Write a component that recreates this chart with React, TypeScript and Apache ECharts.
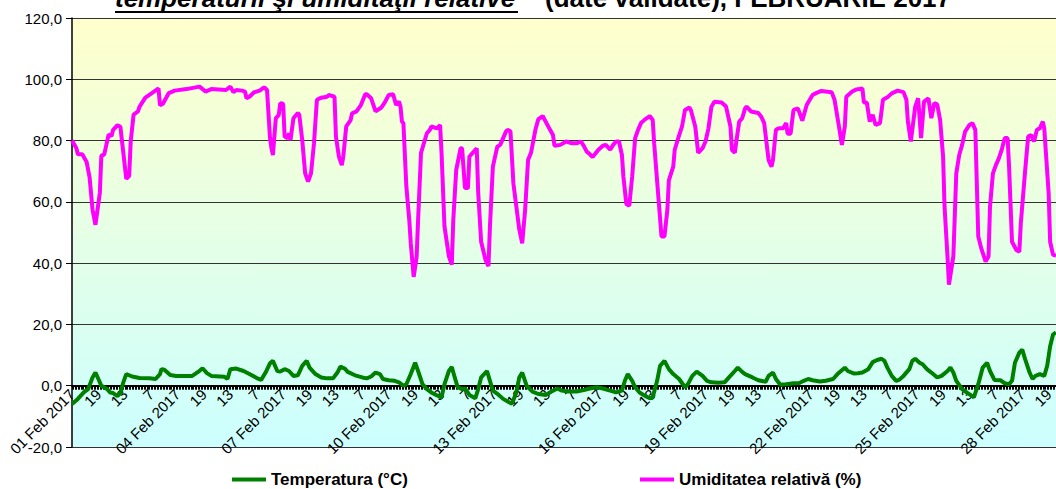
import React, { useEffect, useRef } from "react";
import * as echarts from "echarts";

// ---- data (hour index from 01 Feb 2017 01:00, value) ----
const MONTH_LABEL = "Feb 2017";
const DAYS_IN_MONTH = 28;
const HOURS_PER_DAY = 24;
const LABEL_STEP = 18;

const tempHours = [0,4,8,11,14,16,18,20,24,26,28,31,33,35,37,41,46,53,57,60,61,63,67,71,82,86,89,92,95,101,104,106,108,112,117,121,126,129,132,135,137,140,142,145,148,151,154,157,160,162,166,170,174,178,181,183,186,188,193,198,201,204,207,210,212,216,220,223,226,228,231,234,236,239,242,245,249,252,254,257,259,261,263,266,268,271,275,277,279,283,285,287,291,294,298,300,303,305,307,310,314,318,323,327,331,334,338,344,349,353,358,362,367,371,375,377,379,382,384,387,391,394,396,399,401,404,407,410,414,418,420,423,426,430,433,436,441,445,448,452,454,457,459,464,468,473,475,478,480,483,487,492,496,499,502,505,510,514,519,522,527,529,533,536,539,543,546,549,552,554,556,559,562,564,567,571,573,575,578,580,583,586,590,593,597,599,601,603,607,610,614,615,618,621,624,626,629,633,636,639,641,643,646,648,650,653,655,657,660,663,665,667,669,671];
const tempValues = [-6,-4.3,-2.2,-1.1,2.7,4.3,2.2,0,-1.1,-2.2,-2.4,-3.4,-2.4,1.1,3.8,3,2.5,2.4,2.2,3.8,5.4,5.2,3.5,3.2,3.2,4.5,5.7,4.1,3.2,3,2.9,2.2,5.4,5.6,4.8,3.8,2.5,1.9,4.3,7.3,8.1,4.8,4.6,5.4,4.8,3.2,3.4,6.5,8.1,5.9,3.8,2.7,2.4,2.4,4.3,6.2,5.6,4.5,3.4,2.7,2.4,3,4.3,3.8,2.2,1.8,1.6,1.1,0,0.5,3.8,7.5,4.8,0.5,-1.1,-2.2,-3.2,-3.8,0.5,4.8,6.1,2.7,-0.5,-1.1,-0.9,-3,-4.1,-1.1,2.7,4.8,1.6,-1.6,-3,-4.3,-5.4,-5.9,-2.2,2.7,4.3,0,-1.9,-2.7,-3,-1.9,-0.9,-1.6,-1.9,-1.9,-1.4,-0.9,-0.5,-0.9,-1.6,-2.2,-1.6,1.6,3.8,1.6,-0.5,-2.2,-3.4,-4.1,-3.8,1.6,6.5,8.1,5.4,3.8,2.2,-0.5,0.5,3.2,4.6,3.2,1.6,1.1,1,1.1,2.7,4.8,5.9,4.5,3.8,2.7,1.8,1.3,3.2,4.3,2.2,0.3,0.5,0.8,0.9,1.6,2.2,1.8,1.4,1.6,2.2,3.8,5.9,4.8,4,4.1,4.3,5.4,7.7,8.4,8.8,8.1,5.9,3.2,1.6,1.9,3.2,5.4,8.1,8.8,7.5,7,5.4,4.3,2.7,3.2,4.8,5.9,4.3,1.6,-1.1,-2.2,-3.4,-3.8,0.5,5.9,7.5,4.8,1.9,1.8,0.8,0.5,1.6,7.5,10.8,11.8,8.6,4.3,2.2,3.2,3.8,3.2,6.5,12.9,16.7,17.4];

const humHours = [0,3,4,7,10,12,14,16,19,20,22,25,27,28,31,33,35,37,39,40,42,45,46,50,53,59,60,62,66,70,78,87,91,95,105,108,110,112,116,118,119,121,124,128,131,133,135,136,137,139,141,142,144,145,147,148,149,151,154,155,157,159,161,163,165,167,170,174,175,179,180,182,184,185,187,190,191,194,197,200,201,204,207,211,213,216,219,221,223,224,225,226,228,230,231,233,235,236,238,242,244,245,249,251,252,254,257,259,260,262,265,266,268,270,271,274,276,277,279,282,284,285,287,290,292,294,296,297,299,301,303,305,307,309,311,313,316,318,321,323,326,328,329,333,337,341,344,347,349,351,353,355,359,362,364,367,369,371,373,375,376,378,380,382,384,386,388,391,394,396,397,400,402,404,406,407,410,411,413,416,418,421,422,425,427,430,432,434,436,438,443,446,449,450,452,453,455,457,459,460,463,468,470,472,475,477,478,480,482,485,487,488,490,492,495,498,501,505,507,511,518,520,523,525,527,528,532,535,539,540,542,544,546,548,551,553,556,559,563,567,569,570,572,575,577,579,581,584,586,588,590,592,594,595,597,598,601,603,605,607,609,612,614,616,618,620,623,625,626,628,630,632,634,636,638,639,641,644,646,647,650,652,654,656,658,660,662,663,666,667,669,671];
const humValues = [80,77.5,75.5,75.5,73,68,57.5,52.5,63,75,75.5,82,81.5,83.5,85,84.5,76,67.5,68.5,79.5,88.5,89.5,91,94,95,97,91.5,92,95.5,96.3,96.8,97.6,96,96.8,96.5,97.6,95.8,96.5,96.3,96,93.8,94.3,95.7,96.3,97.4,96.5,81,77.5,75.3,87.3,88.4,92.2,92,81.3,80.8,82.4,80.2,87.3,89,88.4,80.2,69.3,66.6,69.3,79,93.3,94,94.3,94.9,94.3,81.3,74.8,72,74.8,84.6,86.7,88.9,89.5,91.6,95.1,95.1,93.8,89.5,90.8,92.2,94.9,95.1,91.6,92.7,91.1,86.2,85.7,65,54,46.5,35.5,42,54,76,82.4,83.5,84.6,84,85.1,76,52,42.2,39.5,54,70.4,77.5,77.5,64.5,64.5,74.8,76.4,77.5,63,47,41,39,52,71.5,78,78.6,80.8,83,83.5,83,66,58.5,51,46.5,57.4,73.7,76,83.5,87,88,86.2,83.5,81.8,78.3,78.6,79.7,79.1,79.1,79.7,78.3,76.4,75.6,74.6,77,78.3,78.6,77,78.6,79.7,79.7,75.3,68.3,59.3,58.7,68.3,80.8,83.5,85.7,87,88,86.7,79,60.7,48.7,48.7,57.4,67,71.5,77,80.2,84.6,90,90.8,90,84.6,76,77.5,79.7,84,91,92.7,92.4,91.1,84.6,77,76,79.7,86.2,87.3,90.5,91.1,89.5,89,87.8,85.7,73.7,71.5,73.7,83.5,84,84,85.7,82.2,82.2,90,90.5,86.5,91.6,94.9,95.4,96.2,95.8,93.3,84.6,78.6,84.6,94.3,96,96.7,97,92.4,92.4,86.2,88.4,85.1,85.7,93.3,94.1,95.4,96.3,95.8,93.3,86.2,79.7,91.1,93.8,80.8,92.7,93.8,87.3,92.2,91.8,86.7,74.8,58.5,42.2,33,42.2,69.3,75.3,78.6,82.9,85.1,85.7,83.5,48.7,44.9,40.5,42.2,58.5,69.3,72,74.2,77,80.8,80.8,71.5,47,44.3,43.7,53,70.4,81.3,81.8,79.7,83.5,84,86.2,84,62.8,47,42.7,42.5];

const yTicks = { min: -20, max: 120, step: 20 };
const seriesNames = ["Temperatura (°C)", "Umiditatea relativă (%)"];
const titleItalic = "temperaturii şi umidităţii relative";
const titleRest = "(date validate), FEBRUARIE 2017";

const FONT = 'Arial, "Liberation Sans", sans-serif';

const H = 489;
const GRID_TOP = 18;
const GRID_BOTTOM = 42;

function pad2(n: number) {
  return n < 10 ? "0" + n : String(n);
}

export default function App() {
  const ref = useRef<HTMLDivElement>(null);

  useEffect(() => {
    if (!ref.current) return;
    const chart = echarts.init(ref.current, undefined, { renderer: "svg" });

    const categories: string[] = [];
    for (let d = 1; d <= DAYS_IN_MONTH; d++) {
      for (let h = 1; h <= HOURS_PER_DAY; h++) {
        categories.push(`${pad2(d)} ${MONTH_LABEL} ${pad2(h)}`);
      }
    }

    const labelFor = (idx: number) => {
      const day = Math.floor(idx / HOURS_PER_DAY) + 1;
      const hour = (idx % HOURS_PER_DAY) + 1;
      return hour === 1 ? `${pad2(day)} ${MONTH_LABEL}` : String(hour);
    };

    // pixel position of the zero line (so the labelled axis sits on it)
    const plotH = H - GRID_TOP - GRID_BOTTOM;
    const zeroY = GRID_TOP + (plotH * yTicks.max) / (yTicks.max - yTicks.min);
    const axisGridBottom = H - zeroY;

    const legendText = { fontFamily: FONT, fontWeight: "bold", fontSize: 17, color: "#000" };

    const option: any = {
      animation: false,
      backgroundColor: "#ffffff",
      grid: [
        {
          left: 72,
          right: 0,
          top: GRID_TOP,
          bottom: GRID_BOTTOM,
          containLabel: false,
          outerBoundsMode: "none",
          show: true,
          borderWidth: 0,
          backgroundColor: new echarts.graphic.LinearGradient(0, 0, 0, 1, [
            { offset: 0, color: "#FFFFCC" },
            { offset: 1, color: "#CCFFFF" },
          ]),
        },
        {
          left: 72,
          right: 0,
          top: GRID_TOP,
          bottom: axisGridBottom,
          containLabel: false,
          outerBoundsMode: "none",
          show: false,
        },
      ],
      graphic: [
        {
          type: "text",
          x: 115,
          y: -2,
          style: {
            text: titleItalic,
            font: `italic bold 26px ${FONT}`,
            fill: "#000",
            align: "left",
            verticalAlign: "middle",
          },
        },
        {
          type: "line",
          shape: { x1: 115, y1: 12, x2: 518, y2: 12 },
          style: { stroke: "#000", lineWidth: 2 },
        },
        {
          type: "text",
          x: 545,
          y: -2,
          style: {
            text: titleRest,
            font: `bold 26px ${FONT}`,
            fill: "#000",
            align: "left",
            verticalAlign: "middle",
          },
        },
      ],
      legend: [
        {
          data: [seriesNames[0]],
          left: 232,
          top: 471,
          icon: "rect",
          itemWidth: 34,
          itemHeight: 4,
          padding: 0,
          textStyle: legendText,
        },
        {
          data: [seriesNames[1]],
          left: 640,
          top: 471,
          icon: "rect",
          itemWidth: 34,
          itemHeight: 4,
          padding: 0,
          textStyle: legendText,
        },
      ],
      xAxis: [
        {
          type: "category",
          gridIndex: 0,
          data: categories,
          boundaryGap: false,
          show: false,
        },
        {
          type: "category",
          gridIndex: 1,
          data: categories,
          boundaryGap: false,
          position: "bottom",
          axisLine: { onZero: false, lineStyle: { color: "#000", width: 2 } },
          axisTick: { show: true, interval: 0, length: 4, lineStyle: { color: "#000", width: 1 } },
          axisLabel: {
            interval: LABEL_STEP - 1,
            rotate: 45,
            margin: 6,
            fontFamily: FONT,
            fontSize: 15,
            color: "#000",
            formatter: (_v: string, idx: number) => labelFor(idx),
          },
          splitLine: { show: false },
        },
      ],
      yAxis: [
        {
          type: "value",
          gridIndex: 0,
          min: yTicks.min,
          max: yTicks.max,
          interval: yTicks.step,
          axisLine: { show: true, lineStyle: { color: "#000", width: 1.5 } },
          axisTick: { show: true, length: 6, lineStyle: { color: "#000" } },
          axisLabel: {
            margin: 10,
            fontFamily: FONT,
            fontSize: 15,
            color: "#000",
            formatter: (v: number) => v.toFixed(1).replace(".", ","),
          },
          splitLine: { show: true, lineStyle: { color: "#333", width: 1 } },
        },
        {
          type: "value",
          gridIndex: 1,
          min: 0,
          max: yTicks.max,
          show: false,
        },
      ],
      series: [
        {
          name: seriesNames[0],
          type: "line",
          xAxisIndex: 0,
          yAxisIndex: 0,
          showSymbol: false,
          color: "#008000",
          lineStyle: { color: "#008000", width: 4 },
          data: tempHours.map((h, i) => [h, tempValues[i]]),
        },
        {
          name: seriesNames[1],
          type: "line",
          xAxisIndex: 0,
          yAxisIndex: 0,
          showSymbol: false,
          color: "#FF00FF",
          lineStyle: { color: "#FF00FF", width: 4 },
          data: humHours.map((h, i) => [h, humValues[i]]),
        },
      ],
    };

    chart.setOption(option);
    return () => chart.dispose();
  }, []);

  return (
    <div
      ref={ref}
      style={{ position: "fixed", left: 0, top: 0, width: 1056, height: H }}
    />
  );
}
